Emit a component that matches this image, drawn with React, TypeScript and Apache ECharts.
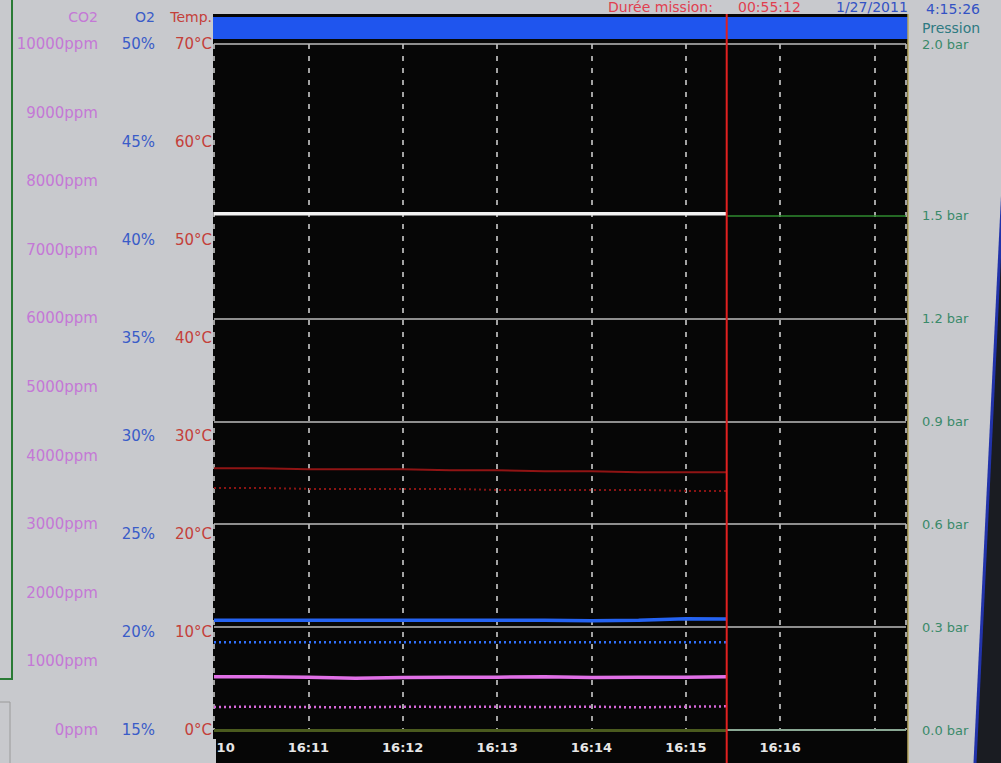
import React, { useEffect, useRef } from "react";
import * as echarts from "echarts";

// ---- data ----
const times = [
  "16:10:00", "16:10:30", "16:11:00", "16:11:30", "16:12:00", "16:12:30",
  "16:13:00", "16:13:30", "16:14:00", "16:14:30", "16:15:00", "16:15:26",
];
const pressureBar = [1.505, 1.505, 1.505, 1.505, 1.505, 1.505, 1.505, 1.505, 1.505, 1.505, 1.505, 1.505];
const tempSolid = [26.7, 26.7, 26.6, 26.6, 26.6, 26.5, 26.5, 26.4, 26.4, 26.3, 26.3, 26.3];
const tempDotted = [24.7, 24.7, 24.6, 24.6, 24.6, 24.6, 24.5, 24.5, 24.5, 24.5, 24.4, 24.4];
const o2Solid = [20.6, 20.6, 20.6, 20.6, 20.6, 20.6, 20.6, 20.6, 20.58, 20.6, 20.68, 20.66];
const o2Dotted = [19.48, 19.48, 19.48, 19.48, 19.48, 19.48, 19.48, 19.48, 19.48, 19.48, 19.48, 19.48];
const co2Solid = [775, 775, 770, 755, 765, 770, 770, 775, 765, 770, 770, 775];
const co2Dotted = [335, 340, 335, 330, 340, 335, 340, 335, 340, 330, 340, 345];

const axisStart = "16:10:00";
const axisEnd = "16:17:20";
const cursorTime = "16:15:26";

const tempRange = [0, 70, 10];
const o2Range = [15, 50, 5];
const co2Range = [0, 10000, 1000];
const pressureRange = [0, 2.0, 0.1];
const pressureLabels = [0, 0.3, 0.6, 0.9, 1.2, 1.5, 2.0];
const pressureGrayLines = [0.3, 0.6, 0.9, 1.2, 2.0];
const pressureGreenLine = 1.5;

const headerMission = "Durée mission:";
const headerDuration = "00:55:12";
const headerDate = "1/27/2011";
const headerClock = "4:15:26";

const toSec = (t: string) => {
  const [h, m, s] = t.split(":").map(Number);
  return h * 3600 + m * 60 + s;
};
const fmtTime = (v: number) => {
  const h = Math.floor(v / 3600);
  const m = Math.floor((v % 3600) / 60);
  return `${h}:${String(m).padStart(2, "0")}`;
};

const FONT = '"DejaVu Sans", Verdana, sans-serif';
const PAGE_BG = "#c8c9cd";

export default function App() {
  const ref = useRef<HTMLDivElement>(null);

  useEffect(() => {
    if (!ref.current) return;
    const chart = echarts.init(ref.current, undefined, { renderer: "svg" });
    const xs = times.map(toSec);
    const pair = (arr: number[]) => xs.map((x, i) => [x, arr[i]]);
    const xMax = toSec(axisEnd);

    const yBase = {
      type: "value" as const,
      position: "left" as const,
      axisLine: { show: false },
      axisTick: { show: false },
      splitLine: { show: false },
      nameLocation: "end" as const,
      nameGap: 27,
    };

    const option: any = {
      animation: false,
      backgroundColor: PAGE_BG,
      textStyle: { fontFamily: FONT },
      grid: { left: 214, right: 95, top: 44, bottom: 33, containLabel: false },
      xAxis: {
        type: "value",
        min: toSec(axisStart),
        max: xMax,
        interval: 60,
        axisLine: { show: false },
        axisTick: { show: false },
        axisLabel: {
          formatter: (v: number) => (v + 60 > xMax ? "" : fmtTime(v)),
          color: "#e6e6e6",
          fontWeight: "bold",
          fontSize: 13,
          margin: 11,
          showMaxLabel: false,
        },
        splitLine: {
          show: true,
          lineStyle: { color: "#d8d8d8", width: 1.5, type: [5, 7] },
        },
      },
      yAxis: [
        {
          ...yBase,
          min: tempRange[0], max: tempRange[1], interval: tempRange[2],
          offset: 0,
          name: "Temp.",
          nameTextStyle: { color: "#c4403a", fontSize: 14, align: "right", verticalAlign: "middle", padding: [0, 2, 0, 0] },
          axisLabel: { formatter: (v: number) => `${v}°C`, color: "#c4403a", fontSize: 15, margin: 2 },
        },
        {
          ...yBase,
          min: o2Range[0], max: o2Range[1], interval: o2Range[2],
          offset: 57,
          name: "O2",
          nameTextStyle: { color: "#3a5cc8", fontSize: 14, align: "right", verticalAlign: "middle", padding: [0, 2, 0, 0] },
          axisLabel: { formatter: (v: number) => `${v}%`, color: "#3a5cc8", fontSize: 15, margin: 2 },
        },
        {
          ...yBase,
          min: co2Range[0], max: co2Range[1], interval: co2Range[2],
          offset: 114,
          name: "CO2",
          nameTextStyle: { color: "#c478d6", fontSize: 14, align: "right", verticalAlign: "middle", padding: [0, 2, 0, 0] },
          axisLabel: { formatter: (v: number) => `${v}ppm`, color: "#c478d6", fontSize: 15, margin: 2 },
        },
        {
          ...yBase,
          position: "right",
          min: pressureRange[0], max: pressureRange[1], interval: pressureRange[2],
          offset: 0,
          name: "Pression",
          nameGap: 16,
          nameTextStyle: { color: "#2e7a82", fontSize: 14, align: "left", verticalAlign: "middle", padding: [0, 0, 0, 16] },
          axisLabel: {
            color: "#3a8a6a",
            fontSize: 13,
            margin: 16,
            formatter: (v: number) =>
              pressureLabels.some((p) => Math.round(p * 10) === Math.round(v * 10))
                ? `${v.toFixed(1)} bar`
                : "",
          },
        },
      ],
      series: [
        {
          name: "Pression",
          type: "line",
          yAxisIndex: 3,
          data: pair(pressureBar),
          symbol: "none",
          z: 5,
          lineStyle: { color: "#f2f2f2", width: 3.5 },
          markLine: {
            silent: true,
            symbol: ["none", "none"],
            label: { show: false },
            z: 1,
            data: [
              ...pressureGrayLines.map((v) => ({
                yAxis: v,
                lineStyle: { color: "#bdbdbd", width: 1.5, type: "solid" },
              })),
              [
                { coord: [toSec(cursorTime), pressureGreenLine], lineStyle: { color: "#2f8a2f", width: 1.5, type: "solid" } },
                { coord: [xMax, pressureGreenLine] },
              ],
              [
                { coord: [toSec(axisStart), 0], lineStyle: { color: "#4a5a1e", width: 3, type: "solid" } },
                { coord: [toSec(cursorTime), 0] },
              ],
              [
                { coord: [toSec(cursorTime), 0], lineStyle: { color: "#8aa894", width: 2, type: "solid" } },
                { coord: [xMax, 0] },
              ],
            ],
          },
        },
        {
          name: "Temp.",
          type: "line",
          yAxisIndex: 0,
          data: pair(tempSolid),
          symbol: "none",
          z: 4,
          lineStyle: { color: "#901414", width: 2 },
        },
        {
          name: "Temp. consigne",
          type: "line",
          yAxisIndex: 0,
          data: pair(tempDotted),
          symbol: "none",
          z: 4,
          lineStyle: { color: "#8a1414", width: 2, type: [2, 3] },
        },
        {
          name: "O2",
          type: "line",
          yAxisIndex: 1,
          data: pair(o2Solid),
          symbol: "none",
          z: 4,
          lineStyle: { color: "#2563f2", width: 3.5 },
        },
        {
          name: "O2 consigne",
          type: "line",
          yAxisIndex: 1,
          data: pair(o2Dotted),
          symbol: "none",
          z: 4,
          lineStyle: { color: "#3070ff", width: 2.5, type: [2, 3] },
        },
        {
          name: "CO2",
          type: "line",
          yAxisIndex: 2,
          data: pair(co2Solid),
          symbol: "none",
          z: 4,
          lineStyle: { color: "#e070e6", width: 3.5 },
        },
        {
          name: "CO2 consigne",
          type: "line",
          yAxisIndex: 2,
          data: pair(co2Dotted),
          symbol: "none",
          z: 4,
          lineStyle: { color: "#d868dc", width: 2.5, type: [2, 3] },
        },
      ],
    };

    chart.setOption(option);

    const px = chart.convertToPixel({ xAxisIndex: 0 }, toSec(cursorTime)) as number;

    const headerFont = `14px ${FONT}`;
    chart.setOption({
      graphic: [
        {
          elements: [
            { type: "rect", z: -10, shape: { x: 213, y: 14, width: 695, height: 760 }, style: { fill: "#060606" } },
            { type: "rect", z: -5, shape: { x: 213, y: 17, width: 695, height: 22 }, style: { fill: "#1f55ee" } },
            { type: "line", z: -4, shape: { x1: 908, y1: 14, x2: 908, y2: 763 }, style: { stroke: "#b8a860", lineWidth: 1.5 } },
            { type: "line", z: 50, shape: { x1: px, y1: 14, x2: px, y2: 763 }, style: { stroke: "#e02020", lineWidth: 2 } },
            { type: "rect", z: 100, shape: { x: 0, y: 739, width: 216, height: 30 }, style: { fill: PAGE_BG } },
            { type: "polyline", z: 101, shape: { points: [[12, 0], [12, 679], [0, 679]] }, style: { stroke: "#2a7a35", lineWidth: 2, fill: "none" } },
            { type: "polyline", z: 101, shape: { points: [[0, 702], [10, 702], [10, 763]] }, style: { stroke: "#9a9a9a", lineWidth: 1, fill: "none" } },
            { type: "polygon", z: 101, shape: { points: [[1012, 0], [1060, 0], [1060, 763], [975, 763]] }, style: { fill: "#1a1c22" } },
            { type: "line", z: 102, shape: { x1: 1012, y1: 0, x2: 975, y2: 763 }, style: { stroke: "#2233aa", lineWidth: 3 } },
            { type: "text", z: 101, x: 608, y: 7, style: { text: headerMission, fill: "#e04050", font: headerFont, textAlign: "left", textVerticalAlign: "middle" } },
            { type: "text", z: 101, x: 738, y: 7, style: { text: headerDuration, fill: "#e04050", font: headerFont, textAlign: "left", textVerticalAlign: "middle" } },
            { type: "text", z: 101, x: 836, y: 7, style: { text: headerDate, fill: "#3352c4", font: headerFont, textAlign: "left", textVerticalAlign: "middle" } },
            { type: "text", z: 101, x: 926, y: 9, style: { text: headerClock, fill: "#3352c4", font: headerFont, textAlign: "left", textVerticalAlign: "middle" } },
          ],
        },
      ],
    });

    return () => chart.dispose();
  }, []);

  return (
    <div
      ref={ref}
      style={{ position: "absolute", left: 0, top: 0, width: 1001, height: 763 }}
    />
  );
}
